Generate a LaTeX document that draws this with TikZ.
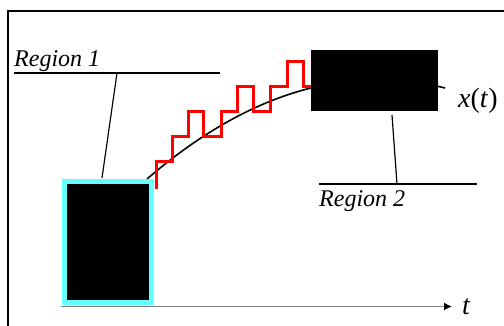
\documentclass[tikz,border=0pt]{standalone}
\usepackage{fontspec}
\setmainfont{Liberation Serif}
\usetikzlibrary{arrows.meta}
\definecolor{boxcyan}{RGB}{102,255,255}
\definecolor{axisgray}{RGB}{128,128,128}
\definecolor{stepred}{RGB}{255,0,0}
\begin{document}
\begin{tikzpicture}[x=1pt,y=-1pt,
  lbl/.style={font=\fontsize{24}{24}\selectfont\itshape, inner sep=0pt, anchor=base west},
  sym/.style={font=\fontsize{28}{28}\selectfont, inner sep=0pt, anchor=base west},
  leader/.style={line width=1.2pt},
  stairs/.style={stepred, line width=3pt, line join=miter},
  curveline/.style={line width=1.6pt},
  blackbox/.style={fill=black, inner sep=0pt},
  frameline/.style={line width=2pt, line join=miter}
]
\useasboundingbox (0,0) rectangle (504,326);
\fill[white] (0,0) rectangle (504,326);
% frame
\draw[frameline] (8,340) -- (8,11) -- (515,11);
% curve x(t)
\coordinate (c0) at (147,179);
\coordinate (c1) at (445,88);
\draw[curveline] (c0) .. controls (246.3,93.5) and (345.7,63.2) .. (c1);
% staircase
\coordinate (s0) at (156,189);
\coordinate (s1) at (311,87);
\draw[stairs] (s0) -- (156,162) -- (172,162) -- (172,137) -- (188,137) -- (188,112)
  -- (203,112) -- (203,137) -- (221,137) -- (221,112) -- (237,112) -- (237,87)
  -- (253,87) -- (253,112) -- (270,112) -- (270,87) -- (287,87) -- (287,62)
  -- (303,62) -- (303,87) -- (s1);
% boxes
\node[blackbox, draw=boxcyan, line width=5pt, minimum width=87pt, minimum height=121pt] (box1) at (108,242) {};
\node[blackbox, minimum width=127pt, minimum height=61pt] (box2) at (374.5,80.5) {};
% axis
\coordinate (ax0) at (61,306.5);
\coordinate (ax1) at (452,306.5);
\draw[axisgray, line width=1.5pt, -{Latex[length=8pt,width=8pt,color=black]}] (ax0) -- (ax1);
\node[sym] (tlabel) at (462,315) {\textit{t}};
\node[sym] (xlabel) at (458,108) {\textit{x}(\textit{t})};
% region 1
\node[lbl] (r1) at (14,67) {Region 1};
\coordinate (u1a) at (14,73);
\coordinate (u1b) at (220,73);
\coordinate (k1) at (117,73);
\coordinate (k1b) at (102,178);
\draw[leader] (u1a) -- (u1b);
\draw[leader] (k1) -- (k1b);
% region 2
\node[lbl] (r2) at (319,207) {Region 2};
\coordinate (u2a) at (319,184);
\coordinate (u2b) at (477,184);
\coordinate (k2) at (397,184);
\coordinate (k2b) at (392,115);
\draw[leader] (u2a) -- (u2b);
\draw[leader] (k2) -- (k2b);
\end{tikzpicture}
\end{document}
